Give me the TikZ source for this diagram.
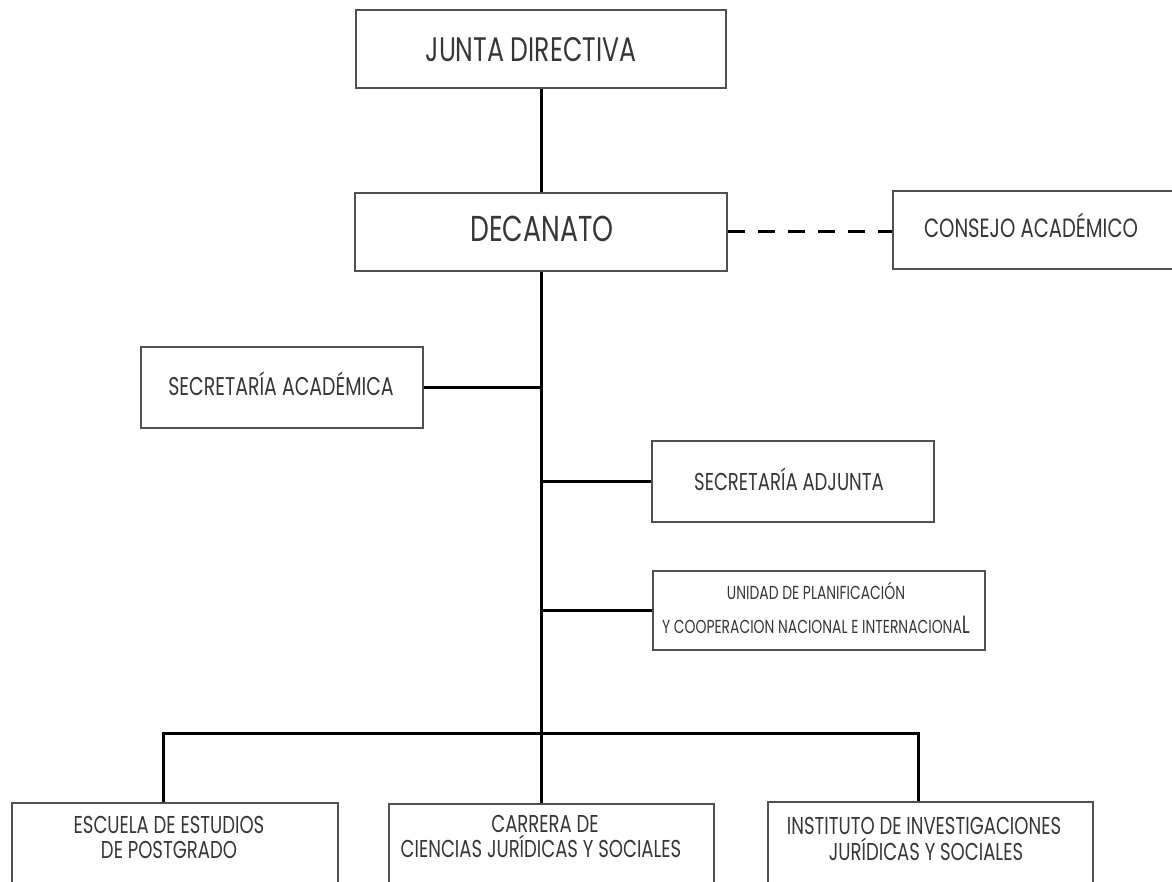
\documentclass[tikz,border=0pt]{standalone}
\usepackage{fontspec}
\newfontfamily\orgfont[FakeStretch=0.74]{Poppins}
\usetikzlibrary{fit}
\definecolor{boxgray}{RGB}{80,80,80}
\definecolor{inkgray}{RGB}{55,55,55}
\begin{document}
\begin{tikzpicture}[x=0.5pt,y=-0.5pt,
  box/.style={draw=boxgray, line width=1pt, inner sep=0pt},
  link/.style={line width=1.5pt, draw=black},
  lbl/.style={anchor=base, inner sep=0pt, text=inkgray},
  bigtext/.style={lbl, font=\orgfont\fontsize{17}{20}\selectfont},
  decatext/.style={lbl, font=\orgfont\fontsize{18}{20}\selectfont},
  consejotext/.style={lbl, font=\orgfont\fontsize{13.2}{16}\selectfont},
  midtext/.style={lbl, font=\orgfont\fontsize{12.8}{15}\selectfont},
  adjtext/.style={lbl, font=\orgfont\fontsize{12.2}{15}\selectfont},
  smalltext/.style={lbl, font=\orgfont\fontsize{9.4}{12}\selectfont},
  lowtext/.style={lbl, font=\orgfont\fontsize{12.2}{14}\selectfont}]

% canvas
\path[fill=white, use as bounding box] (0,0) rectangle (1172,882);
\clip (0,0) rectangle (1172,882);

% boxes
\node[box, fit={(356,10) (726,88)}] (junta) {};
\node[box, fit={(355,193) (727,271)}] (decanato) {};
\node[box, fit={(893,191) (1176,269)}] (consejo) {};
\node[box, fit={(141,347) (423,428)}] (sacad) {};
\node[box, fit={(652,441) (934,522)}] (sadj) {};
\node[box, fit={(653,571) (985,650)}] (unidad) {};
% the lower boxes run past the bottom edge
\node[box, fit={(12,803) (338,900)}] (escuela) {};
\node[box, fit={(389,804) (714,900)}] (carrera) {};
\node[box, fit={(768,802) (1093,900)}] (instituto) {};

% labels (placed on their baselines)
\node[bigtext] (juntaT) at (531,62) {JUNTA DIRECTIVA};
\node[decatext] (decanatoT) at (542,242) {DECANATO};
\node[consejotext] (consejoT) at (1031,238) {CONSEJO ACADÉMICO};
\node[midtext] (sacadT) at (281,395) {SECRETARÍA ACADÉMICA};
\node[adjtext] (sadjT) at (789,490) {SECRETARÍA ADJUNTA};
\node[smalltext] (unidadA) at (816,599) {UNIDAD DE PLANIFICACIÓN};
\node[smalltext] (unidadB) at (816,633) {Y COOPERACION NACIONAL E INTERNACIONA{\fontsize{12.5}{14}\selectfont L}};
\node[lowtext] (escuelaA) at (169,833) {ESCUELA DE ESTUDIOS};
\node[lowtext] (escuelaB) at (169,858) {DE POSTGRADO};
\node[lowtext] (carreraA) at (545,832) {CARRERA DE};
\node[lowtext] (carreraB) at (541,857) {CIENCIAS JURÍDICAS Y SOCIALES};
\node[lowtext] (institutoA) at (924,834) {INSTITUTO DE INVESTIGACIONES};
\node[lowtext] (institutoB) at (926,860) {JURÍDICAS Y SOCIALES};

% connectors
\coordinate (hub) at (541,733);
\coordinate (hubL) at (163,733);
\coordinate (hubR) at (918,733);
\draw[link] (junta.south) -- (decanato.north);
\draw[link, dash pattern=on 8.5pt off 6.5pt] (decanato.east) -- (decanato.east -| consejo.west);
\draw[link] (decanato.south) -- (hub) -- (hub |- carrera.north);
\draw[link] (sacad.east) -- (sacad.east -| hub);
\draw[link] (sadj.west) -- (sadj.west -| hub);
\draw[link] (unidad.west) -- (unidad.west -| hub);
\draw[link] (hubL |- escuela.north) -- (hubL) -- (hubR) -- (hubR |- instituto.north);
\end{tikzpicture}
\end{document}
